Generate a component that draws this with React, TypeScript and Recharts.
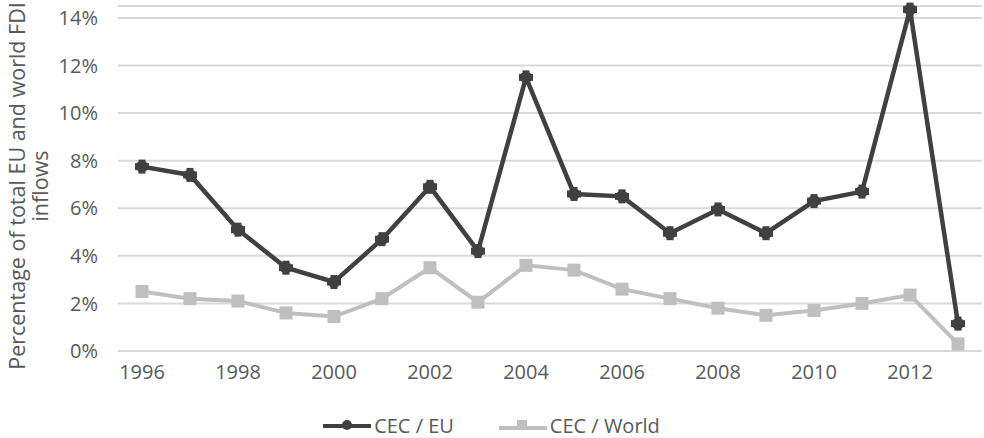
import React from 'react';
import { LineChart, Line, XAxis, YAxis, CartesianGrid, Legend } from 'recharts';

const years = ['1996', '1997', '1998', '1999', '2000', '2001', '2002', '2003', '2004', '2005', '2006', '2007', '2008', '2009', '2010', '2011', '2012', '2013'];
const cecEu = [7.75, 7.4, 5.1, 3.5, 2.9, 4.7, 6.9, 4.2, 11.5, 6.6, 6.5, 4.95, 5.95, 4.95, 6.3, 6.7, 14.35, 1.15];
const cecWorld = [2.5, 2.2, 2.1, 1.6, 1.45, 2.2, 3.5, 2.05, 3.6, 3.4, 2.6, 2.2, 1.8, 1.5, 1.7, 2.0, 2.35, 0.3];
const yTicks = [0, 2, 4, 6, 8, 10, 12, 14];

const data = years.map((year, i) => ({ year, eu: cecEu[i], world: cecWorld[i] }));

const FONT = '"Open Sans", sans-serif';
const TEXT = '#595959';
const EU_COLOR = '#404040';
const WORLD_COLOR = '#bfbfbf';

const EuDot = (props: any) => {
  const { cx, cy } = props;
  if (cx == null || cy == null) return null;
  return (
    <g>
      <circle cx={cx} cy={cy} r={6} fill={EU_COLOR} />
      <rect x={cx - 7} y={cy - 3.5} width={14} height={7} fill={EU_COLOR} />
      <rect x={cx - 3.5} y={cy - 7} width={7} height={14} fill={EU_COLOR} />
    </g>
  );
};

const WorldDot = (props: any) => {
  const { cx, cy } = props;
  if (cx == null || cy == null) return null;
  return <rect x={cx - 6.5} y={cy - 6.5} width={13} height={13} fill={WORLD_COLOR} />;
};

const YLabel = () => (
  <text fill={TEXT} fontSize={21.5} fontFamily={FONT} textAnchor="middle" transform="translate(18, 186) rotate(-90)">
    <tspan x={0} dy={7}>Percentage of total EU and world FDI</tspan>
    <tspan x={0} dy={23}>inflows</tspan>
  </text>
);

const LegendContent = () => (
  <div style={{ boxSizing: 'border-box', display: 'flex', justifyContent: 'center', alignItems: 'center', height: 40, paddingTop: 16, lineHeight: '22px', fontFamily: FONT, fontSize: 20, color: TEXT }}>
    <svg width={50} height={16} style={{ marginRight: 2 }}>
      <line x1={1} y1={8} x2={49} y2={8} stroke={EU_COLOR} strokeWidth={4} />
      <circle cx={25} cy={7} r={5} fill={EU_COLOR} />
    </svg>
    <span style={{ marginRight: 44 }}>CEC / EU</span>
    <svg width={50} height={16} style={{ marginRight: 2 }}>
      <line x1={1} y1={10} x2={49} y2={10} stroke={WORLD_COLOR} strokeWidth={4} />
      <rect x={19} y={2} width={10} height={9} fill={WORLD_COLOR} />
    </svg>
    <span>CEC / World</span>
  </div>
);

export default function App() {
  return (
    <div style={{ position: 'absolute', left: 0, top: 0, width: 984, height: 438, background: '#fff' }}>
      <LineChart width={984} height={438} data={data} margin={{ top: 6, right: 2, left: 0, bottom: 0 }}>
        <CartesianGrid vertical={false} stroke="#d9d9d9" strokeWidth={2} />
        <XAxis
          dataKey="year"
          interval={1}
          tickLine={false}
          axisLine={false}
          height={47}
          padding={{ left: 24, right: 24 }}
          tick={{ fill: TEXT, fontSize: 20, fontFamily: FONT }}
          tickMargin={8}
        />
        <YAxis
          width={118}
          domain={[0, 14.5]}
          ticks={yTicks}
          tickFormatter={(v) => `${v}%`}
          tickLine={false}
          axisLine={false}
          tick={{ fill: TEXT, fontSize: 20, fontFamily: FONT }}
          tickMargin={14}
          label={<YLabel />}
        />
        <Legend verticalAlign="bottom" height={40} content={<LegendContent />} />
        <Line dataKey="world" name="CEC / World" stroke={WORLD_COLOR} strokeWidth={4} dot={<WorldDot />} activeDot={false} isAnimationActive={false} />
        <Line dataKey="eu" name="CEC / EU" stroke={EU_COLOR} strokeWidth={4.5} dot={<EuDot />} activeDot={false} isAnimationActive={false} />
      </LineChart>
    </div>
  );
}
